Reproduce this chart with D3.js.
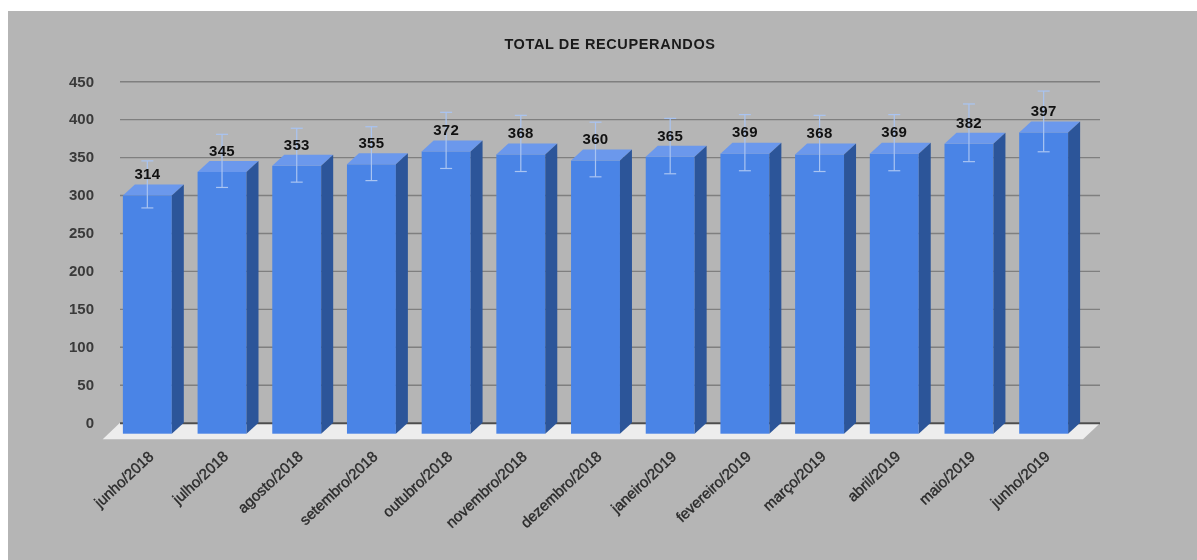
<!DOCTYPE html>
<html><head><meta charset="utf-8">
<script src="https://cdn.jsdelivr.net/npm/d3@7/dist/d3.min.js"></script>
<style>html,body{margin:0;padding:0;background:#fff;overflow:hidden}svg{display:block;font-family:"Liberation Sans",Arial,sans-serif;filter:blur(0.45px)}</style>
</head><body><svg id="c" width="1197" height="560"></svg>
<script>
const categories=["junho/2018","julho/2018","agosto/2018","setembro/2018","outubro/2018","novembro/2018","dezembro/2018","janeiro/2019","fevereiro/2019","março/2019","abril/2019","maio/2019","junho/2019"];
const values=[314,345,353,355,372,368,360,365,369,368,369,382,397];
const errLow=[283,310,317,319,335,331,324,328,332,331,332,344,357];
const errHigh=[345,380,388,390,409,405,396,401,406,405,406,420,437];
const yTicks=[0,50,100,150,200,250,300,350,400,450];
const title="TOTAL DE RECUPERANDOS";

const svg=d3.select("#c");
svg.append("rect").attr("x",8).attr("y",11).attr("width",1189).attr("height",549).attr("fill","#b5b5b5");
svg.append("text").attr("x",610).attr("y",49).attr("text-anchor","middle").attr("font-size",14.5).attr("letter-spacing",0.62).attr("font-weight","bold").attr("fill","#1a1a1a").text(title);

const depth=12;
const y=d3.scaleLinear().domain([0,450]).range([422.7,81.2]);
const x=d3.scaleBand().domain(categories).range([110,1081]).paddingInner(0.345).paddingOuter(0.1725);

// floor
const fl=y(0);
svg.append("path").attr("d",d3.line()([[120,fl],[1100.5,fl],[1083,fl+16.5],[102.7,fl+16.5]])+"Z").attr("fill","#ededed");

// y axis / gridlines
const axis=d3.axisLeft(y).tickValues(yTicks).tickSize(-980).tickPadding(26);
const gA=svg.append("g").attr("transform","translate(120,0)").call(axis);
gA.select(".domain").remove();
gA.selectAll("line").attr("stroke",d=>d===0?"#4d4d4d":"#7f7f7f").attr("stroke-width",d=>d===0?2:1.4);
gA.selectAll("text").attr("font-family","'Liberation Sans',Arial,sans-serif").attr("font-size",15).attr("font-weight","bold").attr("fill","#3a3a3a");

// bars
const bars=svg.append("g").selectAll("g").data(categories).join("g");
bars.each(function(c,i){
  const g=d3.select(this), L=x(c), R=L+x.bandwidth(), T=y(values[i])+depth-1, B=fl+depth-1;
  g.append("rect").attr("x",L).attr("y",T).attr("width",R-L).attr("height",B-T).attr("fill","#4a84e6");
  g.append("path").attr("d",d3.line()([[L,T],[R,T],[R+depth,T-depth+1],[L+depth,T-depth+1]])+"Z").attr("fill","#6b98ec");
  g.append("path").attr("d",d3.line()([[R,T],[R+depth,T-depth+1],[R+depth,B-depth+1],[R,B]])+"Z").attr("fill","#2c5599");
  const cx=(L+R)/2;
  const eb=g.append("g").attr("stroke","#a9c4f2").attr("stroke-width",1.2);
  eb.append("line").attr("x1",cx).attr("x2",cx).attr("y1",y(errLow[i])).attr("y2",y(errHigh[i]));
  eb.append("line").attr("x1",cx-6).attr("x2",cx+6).attr("y1",y(errLow[i])).attr("y2",y(errLow[i]));
  eb.append("line").attr("x1",cx-6).attr("x2",cx+6).attr("y1",y(errHigh[i])).attr("y2",y(errHigh[i]));
  g.append("text").attr("x",cx).attr("y",y(values[i])-5.2).attr("text-anchor","middle").attr("font-size",15).attr("letter-spacing",0.3).attr("font-weight","bold").attr("fill","#111").text(values[i]);
});

// category labels
svg.append("g").selectAll("text").data(categories).join("text")
  .attr("transform",c=>`translate(${x(c)+x.bandwidth()/2},450) rotate(-43)`)
  .attr("text-anchor","end").attr("dy","0.7em").attr("font-size",15).attr("font-weight",400)
  .attr("fill","#2b2b2b").attr("stroke","#2b2b2b").attr("stroke-width",0.4).text(c=>c);
</script></body></html>
